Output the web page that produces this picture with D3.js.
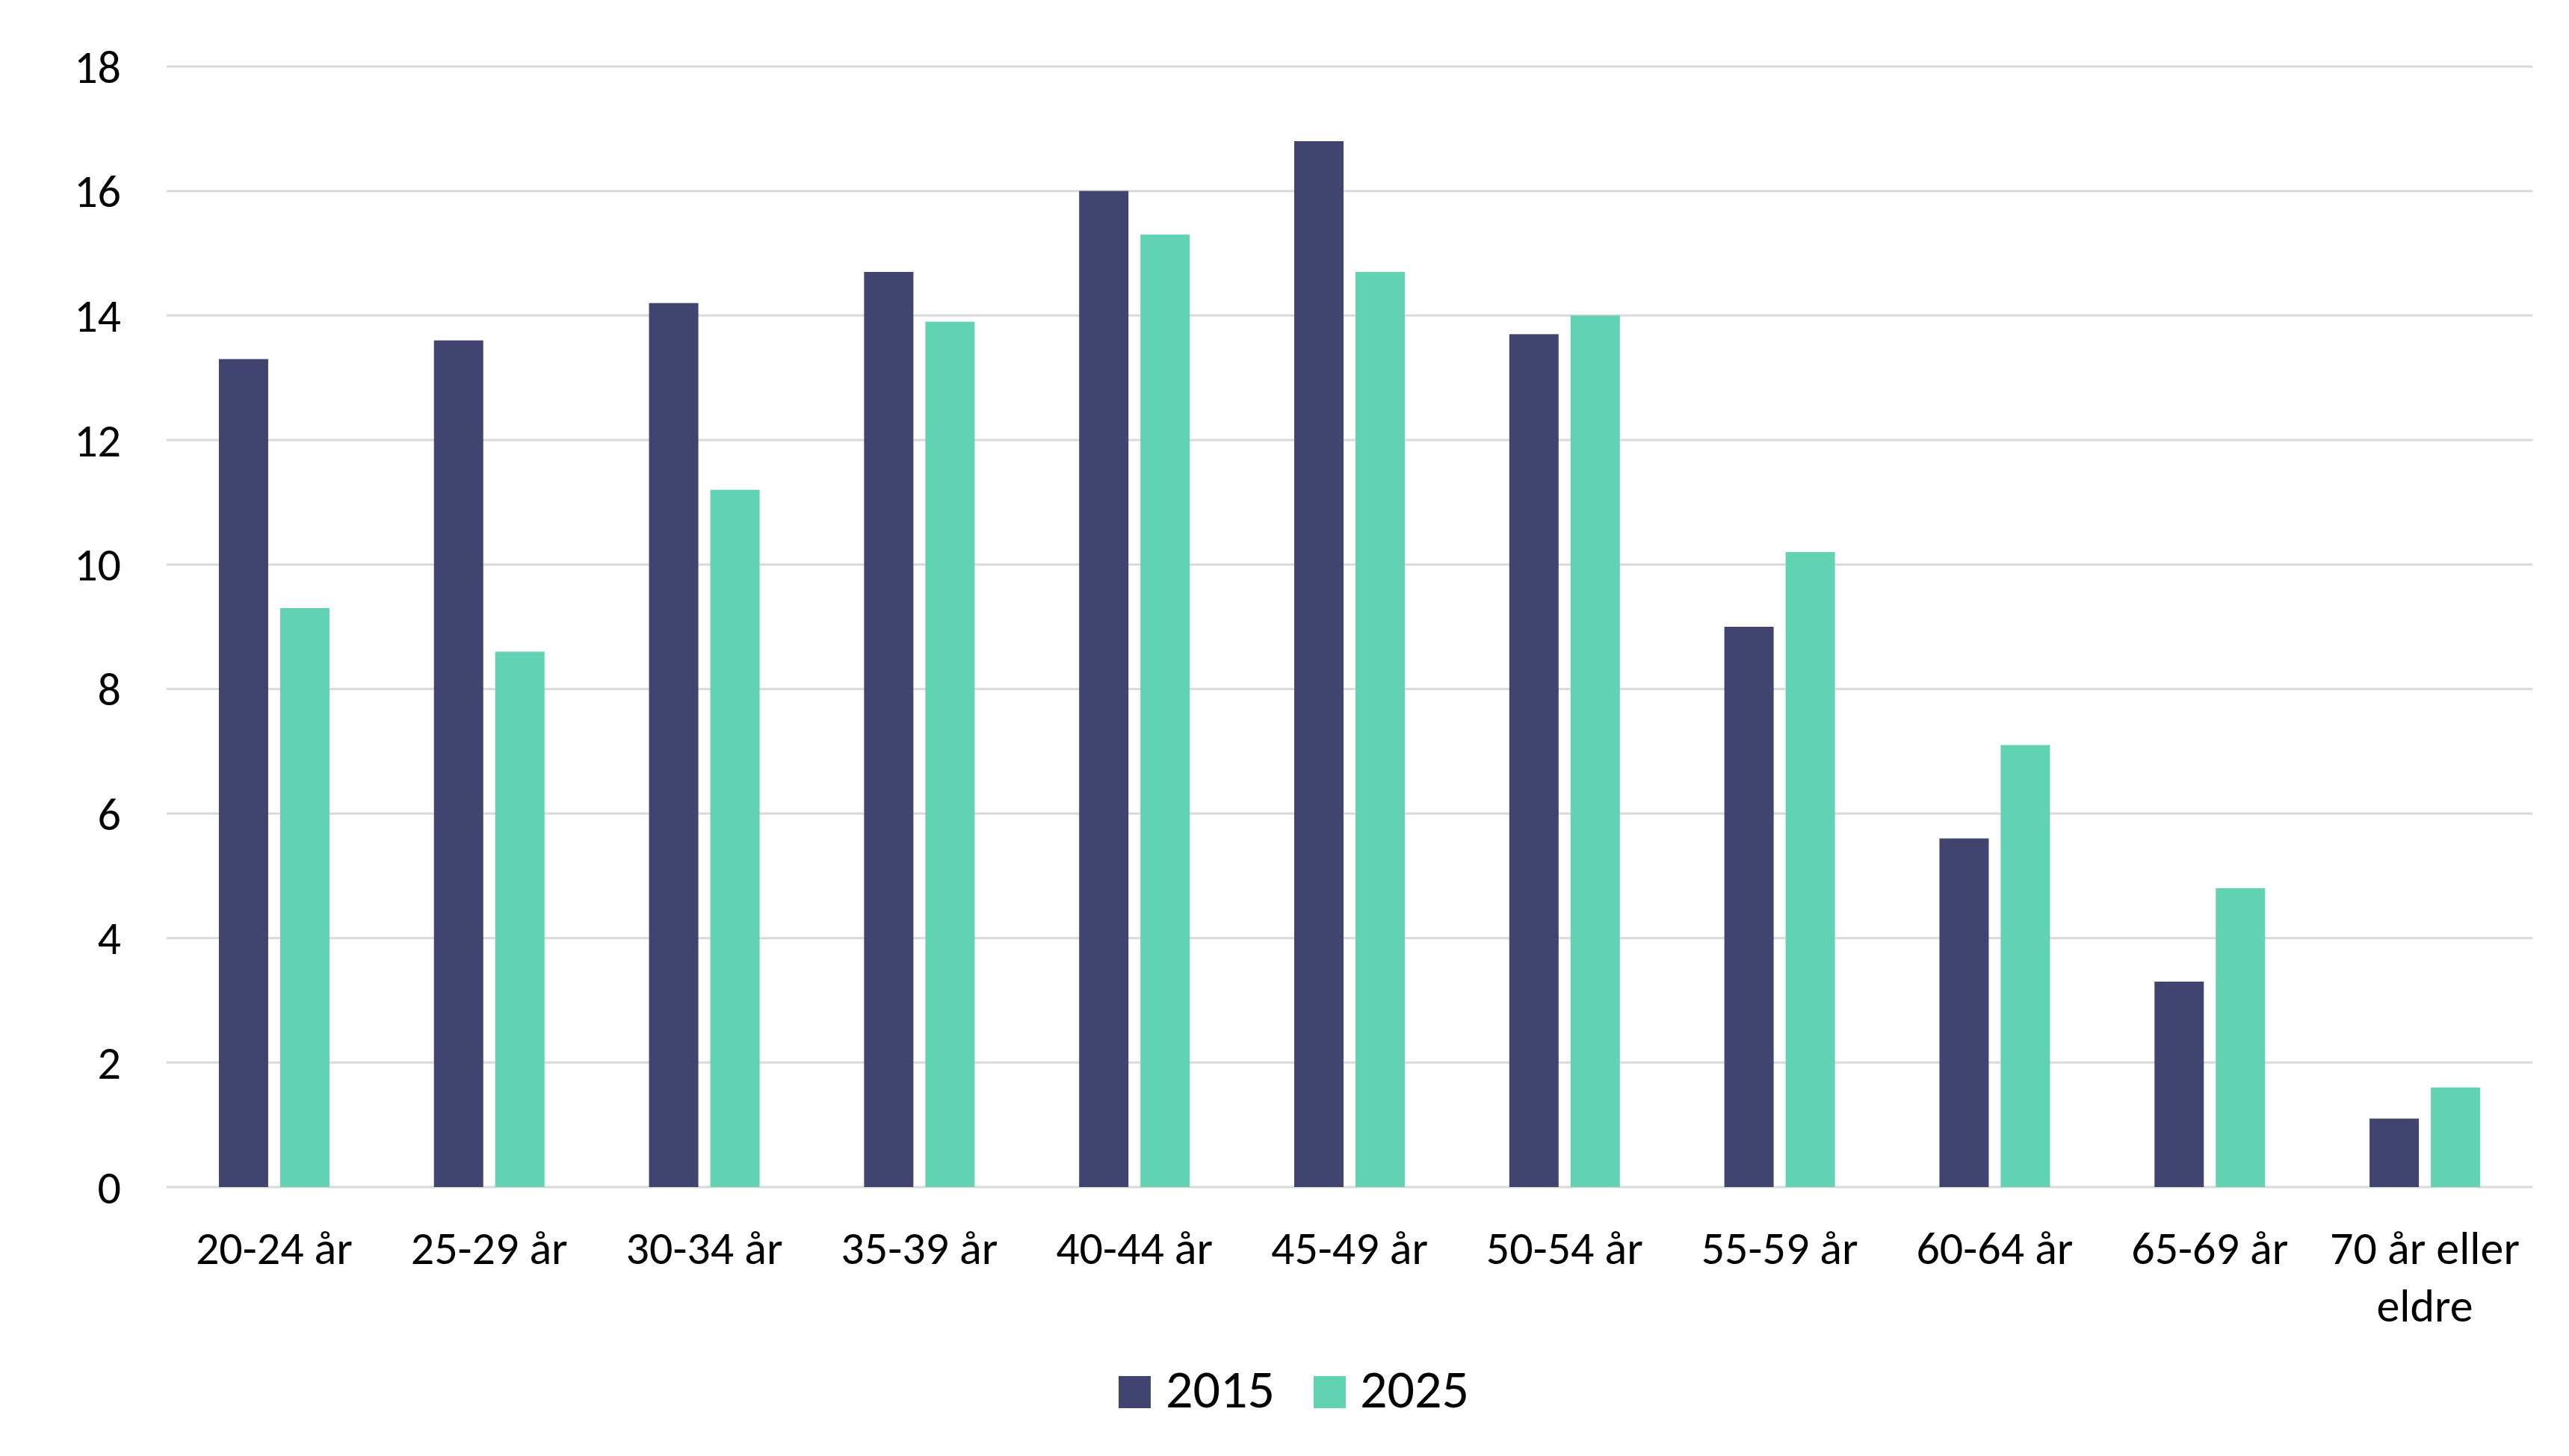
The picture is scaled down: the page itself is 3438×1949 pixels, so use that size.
<!DOCTYPE html>
<html>
<head>
<meta charset="utf-8">
<script src="https://cdn.jsdelivr.net/npm/d3@7"></script>
<style>
  body { margin: 0; background: #ffffff; }
  svg text { font-family: Carlito, Calibri, Lato, sans-serif; fill: #000000; }
</style>
</head>
<body>
<svg id="chart"></svg>
<script>
const categories = ["20-24 år", "25-29 år", "30-34 år", "35-39 år", "40-44 år", "45-49 år",
  "50-54 år", "55-59 år", "60-64 år", "65-69 år", "70 år eller eldre"];
const seriesNames = ["2015", "2025"];
const values2015 = [13.3, 13.6, 14.2, 14.7, 16.0, 16.8, 13.7, 9.0, 5.6, 3.3, 1.1];
const values2025 = [9.3, 8.6, 11.2, 13.9, 15.3, 14.7, 14.0, 10.2, 7.1, 4.8, 1.6];
const yTicks = [0, 2, 4, 6, 8, 10, 12, 14, 16, 18];
const colors = ["#41446E", "#62D3B2"];

const width = 3438, height = 1949;
const plot = { left: 223, right: 3389, top: 89, bottom: 1589 };

const svg = d3.select("#chart")
  .attr("width", width)
  .attr("height", height);

svg.append("rect").attr("width", width).attr("height", height).attr("fill", "#ffffff");

const x0 = d3.scaleBand()
  .domain(categories)
  .range([plot.left, plot.right]);

// two bars of 66px with a 16px gap, centred in each band
const groupW = 148;
const x1 = d3.scaleBand()
  .domain(seriesNames)
  .range([(x0.bandwidth() - groupW) / 2, (x0.bandwidth() + groupW) / 2])
  .paddingInner(16 / 82);

const y = d3.scaleLinear()
  .domain([0, 18])
  .range([plot.bottom, plot.top]);

// gridlines
svg.append("g")
  .selectAll("line")
  .data(yTicks)
  .enter().append("line")
  .attr("x1", plot.left)
  .attr("x2", plot.right)
  .attr("y1", d => y(d))
  .attr("y2", d => y(d))
  .attr("stroke", "#D9D9D9")
  .attr("stroke-width", 3);

// y tick labels
svg.append("g")
  .selectAll("text")
  .data(yTicks)
  .enter().append("text")
  .attr("x", 162)
  .attr("y", d => y(d))
  .attr("dy", "0.35em")
  .attr("text-anchor", "end")
  .style("font-size", "62px")
  .text(d => d);

// bars
const rows = categories.map((c, i) => ({ cat: c, vals: [values2015[i], values2025[i]] }));

const groups = svg.append("g")
  .selectAll("g")
  .data(rows)
  .enter().append("g")
  .attr("transform", d => "translate(" + x0(d.cat) + ",0)");

groups.selectAll("rect")
  .data(d => d.vals.map((v, j) => ({ key: seriesNames[j], v: v, j: j })))
  .enter().append("rect")
  .attr("x", d => x1(d.key))
  .attr("width", x1.bandwidth())
  .attr("y", d => y(d.v))
  .attr("height", d => y(0) - y(d.v))
  .attr("fill", d => colors[d.j]);

// category labels, wrapped when wider than the band
const catLabels = svg.append("g")
  .selectAll("text")
  .data(categories)
  .enter().append("text")
  .attr("x", d => x0(d) + x0.bandwidth() / 2)
  .attr("y", 1692)
  .attr("text-anchor", "middle")
  .style("font-size", "62px");

catLabels.each(function (d) {
  const t = d3.select(this);
  const words = d.split(" ");
  let line = [];
  let tspan = t.append("tspan").attr("x", x0(d) + x0.bandwidth() / 2).attr("dy", 0);
  let lineNo = 0;
  words.forEach(w => {
    line.push(w);
    tspan.text(line.join(" "));
    if (tspan.node().getComputedTextLength() > x0.bandwidth() - 8 && line.length > 1) {
      line.pop();
      tspan.text(line.join(" "));
      line = [w];
      lineNo++;
      tspan = t.append("tspan")
        .attr("x", x0(d) + x0.bandwidth() / 2)
        .attr("dy", 77)
        .text(w);
    }
  });
});

// legend
const legendItems = [
  { name: seriesNames[0], sx: 1497, tx: 1560 },
  { name: seriesNames[1], sx: 1758, tx: 1820 }
];
const legend = svg.append("g");
legend.selectAll("rect")
  .data(legendItems)
  .enter().append("rect")
  .attr("x", d => d.sx)
  .attr("y", 1842)
  .attr("width", 43)
  .attr("height", 43)
  .attr("fill", (d, i) => colors[i]);
legend.selectAll("text")
  .data(legendItems)
  .enter().append("text")
  .attr("x", d => d.tx)
  .attr("y", 1884)
  .style("font-size", "72px")
  .text(d => d.name);
</script>
</body>
</html>
